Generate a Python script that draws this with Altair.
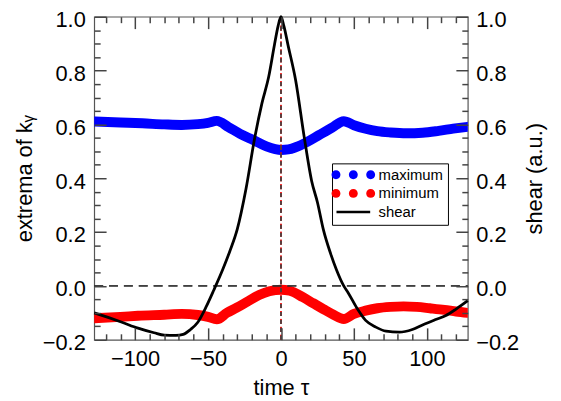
import altair as alt
import pandas as pd

# ---------------- data ----------------
tau_max = [-128, -110, -95, -80, -68, -57, -50, -44, -36, -28, -19, -10, -4, 0, 5,
           10, 18, 26, 35, 43, 50, 58, 66, 75, 86, 97, 108, 118, 128]
k_max = [0.611, 0.607, 0.604, 0.600, 0.598, 0.601, 0.606, 0.613, 0.590, 0.565,
         0.542, 0.518, 0.508, 0.505, 0.507, 0.515, 0.535, 0.560, 0.588, 0.612,
         0.597, 0.584, 0.575, 0.570, 0.567, 0.569, 0.576, 0.584, 0.591]

tau_min = [-128, -110, -98, -80, -68, -57, -50, -44, -37, -30, -22, -15, -8, 0, 6,
           15, 22, 29, 36, 43, 50, 58, 66, 75, 84, 93, 102, 112, 120, 128]
k_min = [-0.120, -0.115, -0.111, -0.107, -0.104, -0.108, -0.115, -0.124, -0.100, -0.080,
         -0.055, -0.034, -0.020, -0.014, -0.018, -0.042, -0.064, -0.086, -0.107, -0.123,
         -0.104, -0.092, -0.083, -0.078, -0.076, -0.078, -0.083, -0.089, -0.095, -0.100]

tau_shear = [-128, -118, -109, -98, -87, -80, -72, -67, -62, -57,
             -51.5, -46, -40, -35, -30, -24, -18, -13, -8.5, -4.5,
             -2, 0, 2, 5, 10, 16, 21, 25, 29, 34,
             38, 43, 46, 52, 58, 65, 72, 81, 90, 97,
             106, 113, 120, 128]
shear = [-0.100, -0.118, -0.135, -0.157, -0.174, -0.183, -0.184, -0.180, -0.162, -0.135,
         -0.080, -0.015, 0.060, 0.130, 0.210, 0.360, 0.550, 0.680, 0.775, 0.895,
         0.965, 1.000, 0.965, 0.890, 0.765, 0.550, 0.390, 0.310, 0.210, 0.120,
         0.060, 0.000, -0.025, -0.082, -0.128, -0.153, -0.168, -0.172, -0.162, -0.145,
         -0.125, -0.110, -0.086, -0.055]

series_names = ["maximum", "minimum", "shear"]
series_colors = ["#0000ff", "#ff0000", "#000000"]

x_major = [-100, -50, 0, 50, 100]
x_minor = [-120, -110, -90, -80, -70, -60, -40, -30, -20, -10,
           10, 20, 30, 40, 60, 70, 80, 90, 110, 120]
y_major = [-0.2, 0.0, 0.2, 0.4, 0.6, 0.8, 1.0]
y_minor = [-0.15, -0.1, -0.05, 0.05, 0.1, 0.15, 0.25, 0.3, 0.35, 0.45, 0.5, 0.55,
           0.65, 0.7, 0.75, 0.85, 0.9, 0.95]

# ---------------- layout / style ----------------
W, H = 377, 326
XDOM = [-128, 128]
YDOM = [-0.2, 1.0]
FONT = "Liberation Sans"
FRAME = "#555555"
TICK = "#444444"
MAJ, MIN = 12, 6

df_max = pd.DataFrame({"tau": tau_max, "k": k_max})
df_min = pd.DataFrame({"tau": tau_min, "k": k_min})
df_shear = pd.DataFrame({"tau": tau_shear, "s": shear})
df_leg = pd.DataFrame({"series": series_names})


def xs():
    return alt.Scale(domain=XDOM, nice=False, zero=False)


def ys():
    return alt.Scale(domain=YDOM, nice=False, zero=False)


def tick_axis(orient, offset, values, size):
    # label-less axis moved onto the opposite frame edge so its ticks point inward
    return alt.Axis(orient=orient, offset=offset, values=values, tickSize=size,
                    ticks=True, labels=False, domain=False, grid=False, title=None,
                    tickColor=TICK, tickWidth=1.5, zindex=2)


def circle(cx, r):
    return f"M{cx - r},0A{r},{r} 0 1,0 {cx + r},0A{r},{r} 0 1,0 {cx - r},0Z"


dots_path = circle(-3.5, 0.9) + circle(0, 0.9) + circle(3.5, 0.9)
line_path = "M-3.4,-0.27H3.4V0.27H-3.4Z"

blue = alt.Chart(df_max).mark_line(
    color="#0000ff", strokeWidth=10, strokeCap="round", strokeJoin="round",
    interpolate="monotone", clip=True
).encode(
    x=alt.X("tau:Q", scale=xs(), axis=alt.Axis(
        orient="bottom", values=x_major, format="d", ticks=False, tickSize=0,
        domain=False, grid=False, labelPadding=9, labelFontSize=22, labelOverlap=False,
        title="time τ", titleFontSize=22, titlePadding=8)),
    y=alt.Y("k:Q", scale=ys(), axis=alt.Axis(
        orient="left", values=y_major, format=".1f", ticks=False, tickSize=0,
        domain=False, grid=False, labelPadding=9, labelFontSize=22, labelFlush=False,
        labelOffset=3, labelOverlap=False, title="extrema of kᵧ", titleFontSize=22,
        titlePadding=6)),
)

red = alt.Chart(df_min).mark_line(
    color="#ff0000", strokeWidth=10, strokeCap="round", strokeJoin="round",
    interpolate="monotone", clip=True
).encode(
    x=alt.X("tau:Q", scale=xs(), axis=tick_axis("top", -H, x_major, MAJ)),
    y=alt.Y("k:Q", scale=ys(), axis=tick_axis("right", -W, y_major, MAJ)),
)

hline = alt.Chart(df_leg).mark_rule(color="#333333", strokeWidth=1, strokeDash=[9, 6]).encode(
    y=alt.Y(datum=0, scale=ys(), axis=tick_axis("right", -W, y_minor, MIN)),
    x=alt.X(datum=XDOM[0], scale=xs(), axis=tick_axis("bottom", -H, x_major, MAJ)),
    x2=alt.X2(datum=XDOM[1]),
)

vred = alt.Chart(df_leg).mark_rule(color="#ff0000", strokeWidth=1, strokeDash=[5, 3]).encode(
    x=alt.X(datum=0, scale=xs(), axis=tick_axis("top", -H, x_minor, MIN)),
    y=alt.Y(datum=YDOM[0], scale=ys(), axis=tick_axis("left", -W, y_major, MAJ)),
    y2=alt.Y2(datum=YDOM[1]),
)

vblack = alt.Chart(df_leg).mark_rule(color="#444444", strokeWidth=1, strokeDash=[4, 4]).encode(
    x=alt.X(datum=0, scale=xs(), axis=tick_axis("bottom", -H, x_minor, MIN)),
    y=alt.Y(datum=YDOM[0], scale=ys(), axis=tick_axis("left", -W, y_minor, MIN)),
    y2=alt.Y2(datum=YDOM[1]),
)

shear_line = alt.Chart(df_shear).mark_line(
    color="black", strokeWidth=2.8, interpolate="monotone"
).encode(
    x=alt.X("tau:Q", scale=xs(), axis=None),
    y=alt.Y("s:Q", scale=ys(), axis=alt.Axis(
        orient="right", values=y_major, format=".1f", ticks=False, tickSize=0,
        domain=False, grid=False, labelPadding=8, labelFontSize=22, labelFlush=False,
        labelOffset=3, labelOverlap=False, title="shear (a.u.)", titleFontSize=22,
        titleAngle=270, titleBaseline="top", titlePadding=6)),
)

leg = alt.Legend(
    orient="none", legendX=240, legendY=148, title=None, direction="vertical",
    strokeColor="black", fillColor="white", padding=4, rowPadding=2.8,
    symbolOffset=10, labelOffset=18, symbolSize=100, symbolStrokeWidth=0,
    labelFont=FONT, labelFontSize=15, labelColor="black",
)

legend_layer = alt.Chart(df_leg).transform_filter("false").mark_point(
    filled=True, opacity=1, size=100, strokeWidth=0
).encode(
    color=alt.Color("series:N", scale=alt.Scale(domain=series_names, range=series_colors), legend=leg),
    shape=alt.Shape("series:N", scale=alt.Scale(domain=series_names,
                                                range=[dots_path, dots_path, line_path]), legend=leg),
)

chart = alt.layer(
    blue, red, hline, vred, vblack, shear_line, legend_layer
).resolve_scale(
    x="independent", y="independent"
).properties(
    width=W, height=H,
    padding={"left": 87, "top": 7, "right": 86, "bottom": 60},
    autosize=alt.AutoSizeParams(type="none"),
).configure_view(
    stroke=FRAME, strokeWidth=1.2
).configure_axis(
    labelFont=FONT, titleFont=FONT, labelColor="black", titleColor="black",
    titleFontWeight="normal"
)

chart.save("out.html", embed_options={"renderer": "svg", "actions": False})
